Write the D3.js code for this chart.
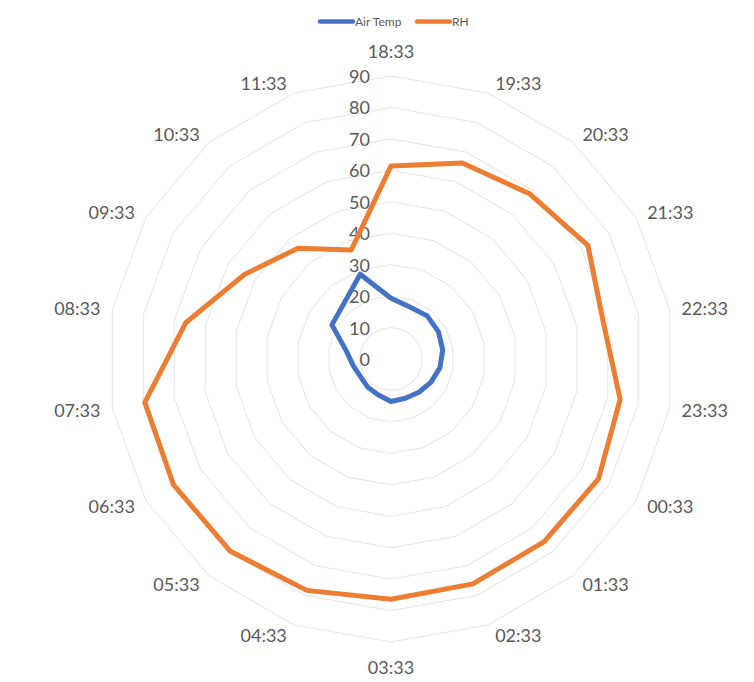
<!DOCTYPE html>
<html>
<head>
<meta charset="utf-8">
<script src="https://cdn.jsdelivr.net/npm/d3@7"></script>
<style>
  html, body { margin: 0; padding: 0; background: #ffffff; }
  svg { display: block; }
</style>
</head>
<body>
<div id="chart"></div>
<script>
// Time of each spoke, clockwise from the top
const categories = ["18:33","19:33","20:33","21:33","22:33","23:33","00:33","01:33","02:33",
                    "03:33","04:33","05:33","06:33","07:33","08:33","09:33","10:33","11:33"];
const airTemp = [19.3, 17.6, 17.9, 17.4, 16.7, 15.8, 14.7, 13.8, 13.3,
                 13.5, 12.1, 11.6, 11.2, 12.2, 14.4, 21.7, 23.2, 28.7];
const rh = [61.4, 66.3, 68.6, 72.3, 68.5, 74.0, 76.2, 75.8, 76.1,
            76.4, 78.3, 79.7, 79.9, 79.5, 66.3, 53.8, 46.0, 36.9];
const ticks = [0, 10, 20, 30, 40, 50, 60, 70, 80, 90];
const seriesNames = ["Air Temp", "RH"];
const seriesColors = ["#4472C4", "#ED7D31"];

const W = 754, H = 682;
const cx = 391, cy = 359, R = 283;
const textColor = "#595959";
const font = "Lato, 'Liberation Sans', sans-serif";

const svg = d3.select("#chart").append("svg")
  .attr("width", W).attr("height", H)
  .style("background", "#ffffff");

const r = d3.scaleLinear().domain([0, 90]).range([0, R]);
const angle = d3.scalePoint().domain(categories).range([0, 2 * Math.PI - 2 * Math.PI / categories.length]);
// angle measured clockwise from the top
const px = (a, rad) => cx + rad * Math.sin(a);
const py = (a, rad) => cy - rad * Math.cos(a);

const g = svg.append("g");

// concentric polygon gridlines
ticks.filter(t => t > 0).forEach(t => {
  const pts = categories.map(c => [px(angle(c), r(t)), py(angle(c), r(t))]);
  g.append("polygon")
    .attr("points", pts.map(p => p.join(",")).join(" "))
    .attr("fill", "none")
    .attr("stroke", "#e3e3e3")
    .attr("stroke-width", 1);
});

// value labels along the vertical axis
g.selectAll("text.tick").data(ticks).join("text")
  .attr("class", "tick")
  .attr("x", cx - 21)
  .attr("y", d => cy - r(d))
  .attr("text-anchor", "end")
  .attr("dominant-baseline", "central")
  .attr("font-family", font)
  .attr("font-size", 18)
  .attr("fill", textColor)
  .text(d => d);

// series polygons
const line = d3.lineRadial()
  .angle((d, i) => angle(categories[i]))
  .radius(d => r(d))
  .curve(d3.curveLinearClosed);

[airTemp, rh].forEach((vals, k) => {
  g.append("path")
    .attr("transform", `translate(${cx},${cy})`)
    .attr("d", line(vals))
    .attr("fill", "none")
    .attr("stroke", seriesColors[k])
    .attr("stroke-width", 5)
    .attr("stroke-linejoin", "round");
});

// category labels around the outside
const labR = 290;
g.selectAll("text.cat").data(categories).join("text")
  .attr("class", "cat")
  .each(function (c) {
    const a = angle(c);
    const s = Math.sin(a), co = Math.cos(a);
    const x0 = px(a, labR), y0 = py(a, labR);
    const t = d3.select(this);
    if (Math.abs(s) < 0.01) {
      t.attr("x", x0).attr("y", y0 - 18 * co).attr("text-anchor", "middle");
    } else {
      t.attr("x", x0 + 5 * Math.sign(s)).attr("y", y0 - 4 * co)
       .attr("text-anchor", s > 0 ? "start" : "end");
    }
  })
  .attr("dominant-baseline", "central")
  .attr("font-family", font)
  .attr("font-size", 18)
  .attr("fill", textColor)
  .text(d => d);

// legend
const legend = svg.append("g");
const legendItems = [
  { name: seriesNames[0], color: seriesColors[0], x: 320 },
  { name: seriesNames[1], color: seriesColors[1], x: 417 }
];
legendItems.forEach(it => {
  legend.append("line")
    .attr("x1", it.x).attr("x2", it.x + 33)
    .attr("y1", 21.5).attr("y2", 21.5)
    .attr("stroke", it.color)
    .attr("stroke-width", 4.5)
    .attr("stroke-linecap", "round");
  legend.append("text")
    .attr("x", it.x + 35)
    .attr("y", 21.5)
    .attr("dominant-baseline", "central")
    .attr("font-family", font)
    .attr("font-size", 12)
    .attr("fill", textColor)
    .text(it.name);
});
</script>
</body>
</html>
